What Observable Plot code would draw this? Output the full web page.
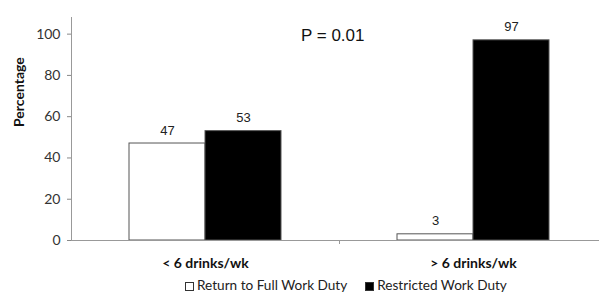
<!DOCTYPE html>
<html>
<head>
<meta charset="utf-8">
<script src="https://cdn.jsdelivr.net/npm/d3@7"></script>
<script src="https://cdn.jsdelivr.net/npm/@observablehq/plot@0.6"></script>
<style>
  html, body { margin: 0; padding: 0; background: #fff; overflow: hidden; }
  #chart { width: 599px; height: 278px; }
  .legend { height: 14px; line-height: 14px; font-family: Lato, "Open Sans", sans-serif; font-size: 13.6px; color: #222; padding-left: 185px; white-space: nowrap; }
  .sw { display: inline-block; width: 9px; height: 9px; box-sizing: border-box; border: 1px solid #333; margin-right: 3px; vertical-align: -1px; }
</style>
</head>
<body>
<div id="chart"></div>
<script>
const categories = ["< 6 drinks/wk", "> 6 drinks/wk"];
const seriesNames = ["Return to Full Work Duty", "Restricted Work Duty"];
const returnFull = [47, 3];
const restricted = [53, 97];
const yTicks = [0, 20, 40, 60, 80, 100];
const pLabel = "P = 0.01";
const yTitle = "Percentage";

const data = [];
categories.forEach((c, i) => {
  data.push({cat: c, series: seriesNames[0], value: returnFull[i]});
  data.push({cat: c, series: seriesNames[1], value: restricted[i]});
});

const plot = Plot.plot({
  width: 599,
  height: 278,
  marginLeft: 70,
  marginRight: -8,
  marginTop: 13,
  marginBottom: 38,
  style: {fontFamily: "Lato, 'Open Sans', sans-serif", fontSize: "13px", color: "#333", background: "#fff"},
  fx: {domain: categories, padding: 0, label: null, axis: null},
  x: {domain: seriesNames, paddingInner: 0, paddingOuter: 0.747, axis: null},
  y: {domain: [0, 110], ticks: yTicks, label: null, axis: null},
  color: {domain: seriesNames, range: ["#ffffff", "#000000"]},
  marks: [
    Plot.axisY({ticks: yTicks, tickSize: 4, tickPadding: 7, stroke: "#888", fill: "#333", fontSize: 14, label: null}),
    // y axis line (first facet) and group-separator tick (second facet), placed at each facet's left edge
    Plot.ruleX([{cat: categories[0], s: seriesNames[0]}], {fx: "cat", x: "s", y1: 0, y2: 110, dx: -96, insetBottom: -4, stroke: "#999"}),
    Plot.ruleX([{cat: categories[1], s: seriesNames[0]}], {fx: "cat", x: "s", y1: 0, y2: 0, dx: -96, insetBottom: -4, stroke: "#999"}),
    Plot.barY(data, {fx: "cat", x: "series", y: "value", fill: "series", stroke: "#555", strokeWidth: 1}),
    Plot.ruleY([0], {stroke: "#999"}),
    Plot.text(data, {fx: "cat", x: "series", y: "value", text: d => String(d.value), dy: -13, fontSize: 13, fill: "#222", fontFamily: "'Liberation Sans', Arial, sans-serif"}),
    Plot.text([{cat: categories[0], t: pLabel}], {fx: "cat", text: "t", frameAnchor: "top-right", textAnchor: "end", dx: 25, dy: 15, fontSize: 17, fill: "#111", fontFamily: "'Liberation Sans', Arial, sans-serif"}),
    Plot.text(categories.map(c => ({cat: c})), {fx: "cat", text: "cat", frameAnchor: "bottom", dy: 27, fontWeight: "bold", fontSize: 14, fill: "#111"}),
    Plot.text([{cat: categories[0], t: yTitle}], {fx: "cat", text: "t", frameAnchor: "left", dx: -52, rotate: -90, fontWeight: "bold", fontSize: 14, fill: "#111"})
  ]
});
document.getElementById("chart").appendChild(plot);

const lg = document.createElement("div");
lg.className = "legend";
lg.innerHTML = `<span class="sw" style="background:#fff"></span>${seriesNames[0]}<span style="display:inline-block;width:18px"></span><span class="sw" style="background:#000"></span>${seriesNames[1]}`;
document.body.appendChild(lg);
</script>
</body>
</html>
